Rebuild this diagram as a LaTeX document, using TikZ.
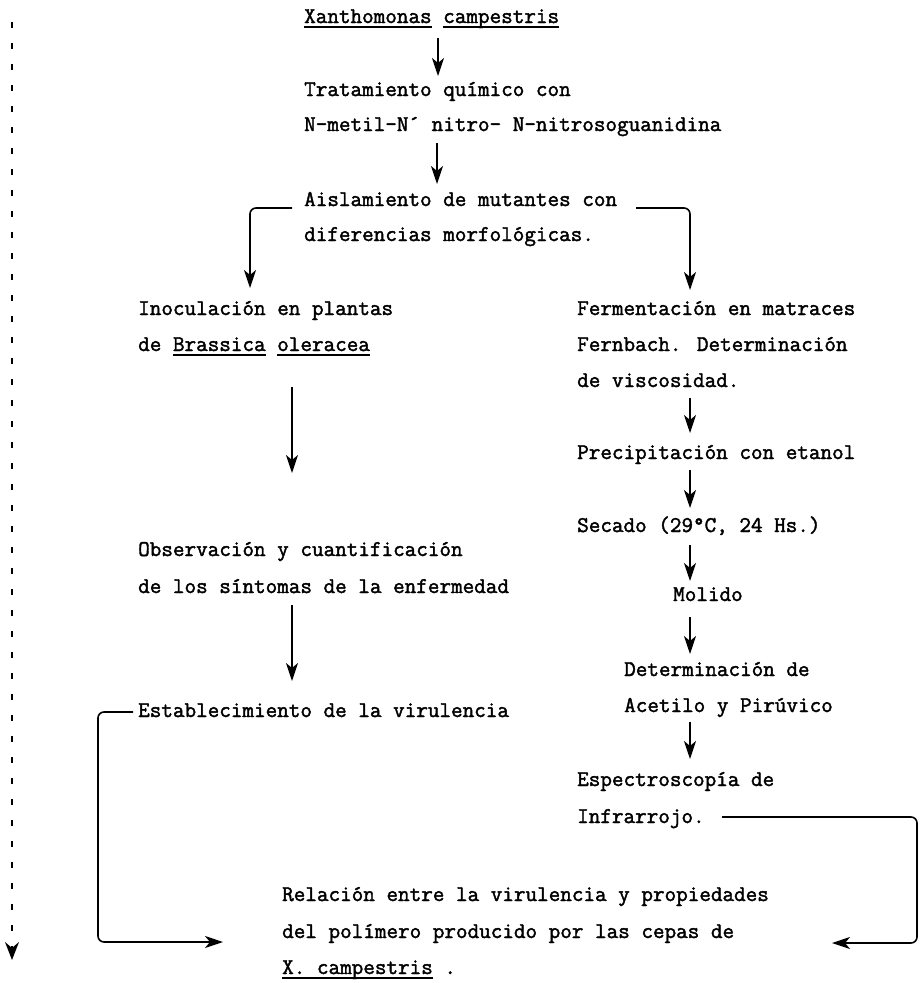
\documentclass[tikz,border=0pt]{standalone}
\usepackage{fontspec}
\newfontfamily\twfont{Latin Modern Mono}[FakeBold=1.8]
\usetikzlibrary{arrows.meta}
\newcommand\typeul[1]{\setbox0\hbox{#1}\rlap{\rule[-4.5pt]{\wd0}{1.3pt}}\box0\relax}
\tikzset{
  txt/.style={anchor=base west, inner sep=0pt, font=\fontsize{22.5}{36}\selectfont\twfont},
  arr/.style={line width=1.6pt, -{Stealth[length=18pt,width=12pt,inset=5pt]}},
  brk/.style={arr, rounded corners=6pt},
  dsh/.style={line width=1.4pt, dash pattern=on 6pt off 15pt, -{Stealth[length=18pt,width=14pt,inset=6pt]}}
}
\begin{document}
\begin{tikzpicture}[x=1pt,y=-1pt]
\useasboundingbox (0,0) rectangle (920,983);
% text
\node[txt] (xan) at (304,23) {\typeul{Xanthomonas} \typeul{campestris}};
\node[txt] (tra1) at (304,96) {Tratamiento químico con};
\node[txt] (tra2) at (304,131) {N-metil-N´ nitro- N-nitrosoguanidina};
\node[txt] (ais1) at (304,206) {Aislamiento de mutantes con};
\node[txt] (ais2) at (304,241) {diferencias morfológicas.};
\node[txt] (ino1) at (138,315) {Inoculación en plantas};
\node[txt] (ino2) at (138,351) {de \typeul{Brassica} \typeul{oleracea}};
\node[txt] (obs1) at (138,556) {Observación y cuantificación};
\node[txt] (obs2) at (138,593) {de los síntomas de la enfermedad};
\node[txt] (est) at (138,717) {Establecimiento de la virulencia};
\node[txt] (fer1) at (577,315) {Fermentación en matraces};
\node[txt] (fer2) at (577,351) {Fernbach. Determinación};
\node[txt] (fer3) at (577,387) {de viscosidad.};
\node[txt] (pre) at (577,459) {Precipitación con etanol};
\node[txt] (sec) at (577,532) {Secado (29°C, 24 Hs.)};
\node[txt] (mol) at (673,601) {Molido};
\node[txt] (det1) at (624,676) {Determinación de};
\node[txt] (det2) at (624,712) {Acetilo y Pirúvico};
\node[txt] (esp1) at (577,786) {Espectroscopía de};
\node[txt] (esp2) at (577,823) {Infrarrojo.};
\node[txt] (rel1) at (282,901) {Relación entre la virulencia y propiedades};
\node[txt] (rel2) at (282,938) {del polímero producido por las cepas de};
\node[txt] (rel3) at (282,974) {\typeul{X. campestris} .};
% connector ends
\coordinate (a1s) at (438,38);  \coordinate (a1e) at (438,76);
\coordinate (a2s) at (437,143); \coordinate (a2e) at (437,184);
\coordinate (bl1) at (292,208); \coordinate (bl2) at (250,208); \coordinate (bl3) at (250,288);
\coordinate (br1) at (636,208); \coordinate (br2) at (690,208); \coordinate (br3) at (690,290);
\coordinate (l1s) at (292,387); \coordinate (l1e) at (292,473);
\coordinate (l2s) at (292,605); \coordinate (l2e) at (292,681);
\coordinate (r1s) at (690,398); \coordinate (r1e) at (690,433);
\coordinate (r2s) at (690,470); \coordinate (r2e) at (690,508);
\coordinate (r3s) at (690,545); \coordinate (r3e) at (690,581);
\coordinate (r4s) at (690,617); \coordinate (r4e) at (690,654);
\coordinate (r5s) at (690,722); \coordinate (r5e) at (690,759);
\coordinate (fl1) at (133,712); \coordinate (fl2) at (98,712); \coordinate (fl3) at (98,942); \coordinate (fl4) at (223,942);
\coordinate (fr1) at (722,817); \coordinate (fr2) at (917,817); \coordinate (fr3) at (917,943); \coordinate (fr4) at (832,943);
\coordinate (ds) at (12,22); \coordinate (de) at (12,960);
% connectors
\draw[arr] (a1s) -- (a1e);
\draw[arr] (a2s) -- (a2e);
\draw[brk] (bl1) -- (bl2) -- (bl3);
\draw[brk] (br1) -- (br2) -- (br3);
\draw[arr] (l1s) -- (l1e);
\draw[arr] (l2s) -- (l2e);
\draw[arr] (r1s) -- (r1e);
\draw[arr] (r2s) -- (r2e);
\draw[arr] (r3s) -- (r3e);
\draw[arr] (r4s) -- (r4e);
\draw[arr] (r5s) -- (r5e);
\draw[brk] (fl1) -- (fl2) -- (fl3) -- (fl4);
\draw[brk] (fr1) -- (fr2) -- (fr3) -- (fr4);
\draw[dsh] (ds) -- (de);
\end{tikzpicture}
\end{document}
